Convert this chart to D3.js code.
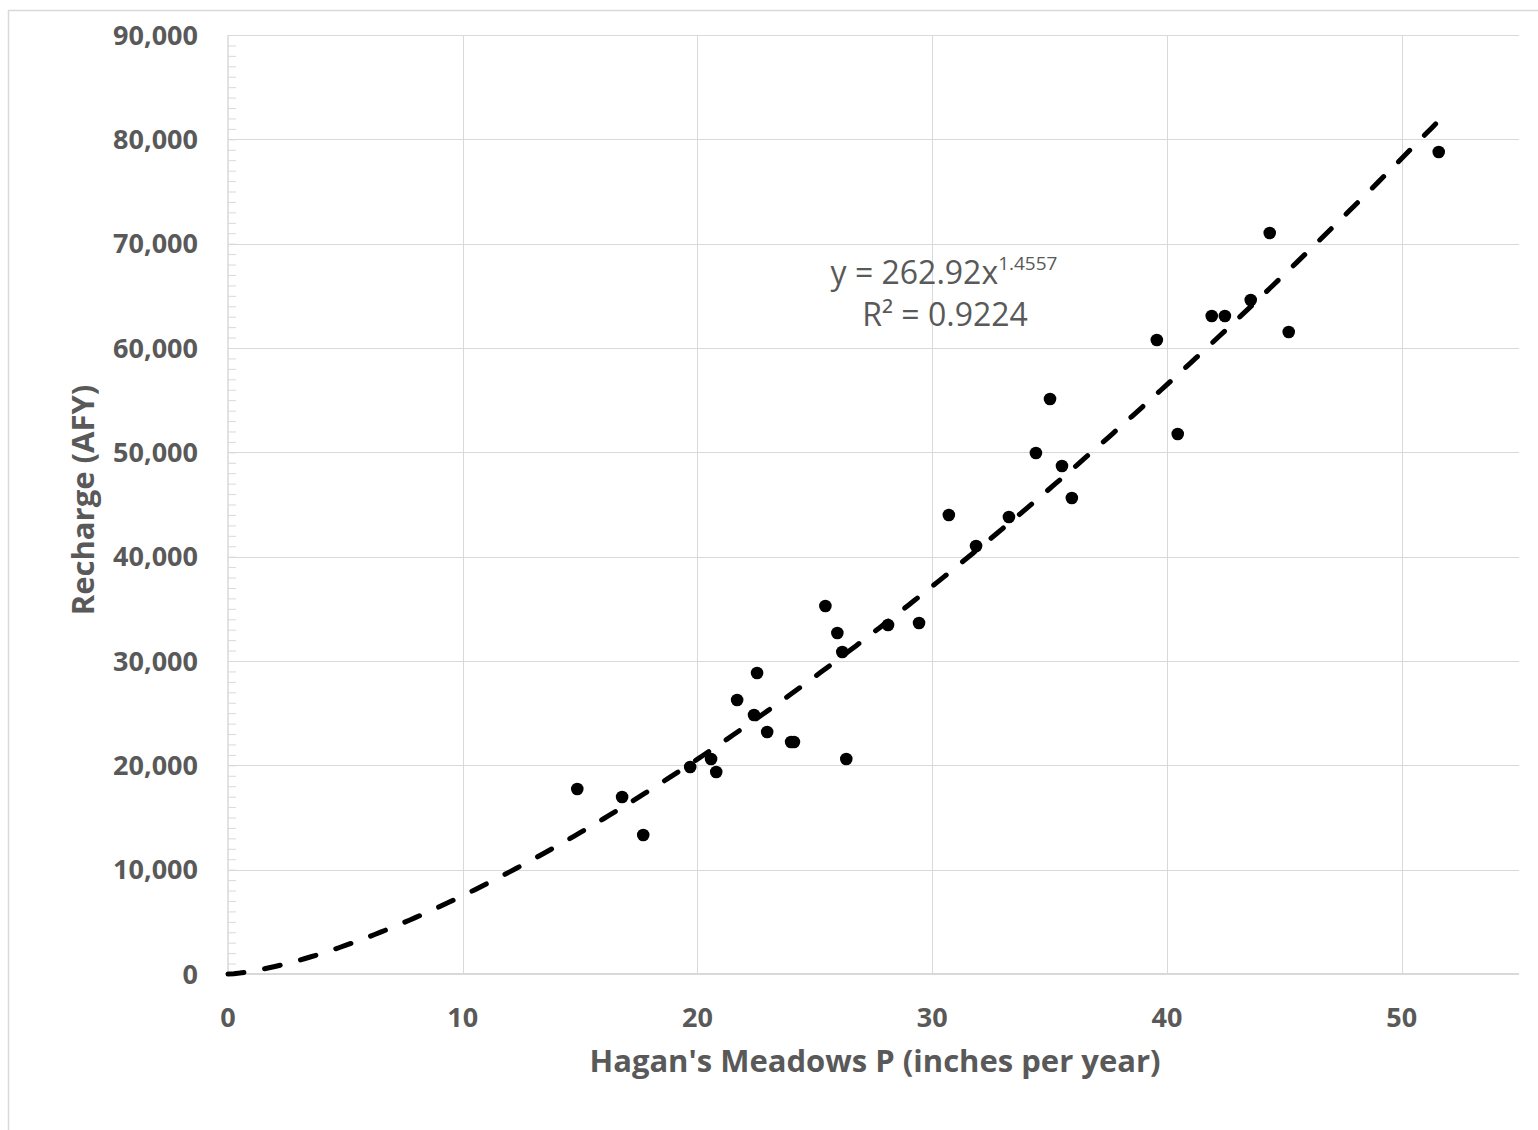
<!DOCTYPE html>
<html lang="en">
<head>
<meta charset="utf-8">
<title>Recharge vs Hagan's Meadows P</title>
<script src="https://cdn.jsdelivr.net/npm/d3@7"></script>
<style>
  body { margin: 0; background: #fff; }
  svg { display: block; }
</style>
</head>
<body>
<script>
// data: precipitation (in/yr) and recharge (AFY)
var precip = [14.88, 16.79, 17.69, 19.69, 20.58, 20.80, 21.69, 22.41, 22.54, 22.97,
              23.99, 24.11, 25.45, 25.96, 26.17, 26.34, 28.12, 29.44, 30.71, 31.87,
              33.27, 34.42, 35.02, 35.53, 35.95, 39.57, 40.46, 41.91, 42.47, 43.57,
              44.38, 45.19, 51.58];
var recharge = [17730, 16965, 13320, 19840, 20610, 19360, 26260, 24820, 28850, 23200,
                22240, 22240, 35270, 32680, 30860, 20610, 33450, 33640, 44000, 41020,
                43800, 49940, 55110, 48690, 45620, 60770, 51760, 63070, 63070, 64600,
                71020, 61530, 78790];
// power trendline y = a * x^b
var trendA = 262.92, trendB = 1.4557;
var xTicks = [0, 10, 20, 30, 40, 50];
var yTicks = [0, 10000, 20000, 30000, 40000, 50000, 60000, 70000, 80000, 90000];

(function() {
  var W = 1538, H = 1130;
  // plot box (note: "top" is reserved on window, so use pl/pr/pt/pb)
  var pl = 228, pr = 1519, pt = 35, pb = 974;
  var grey = "#595959", grid = "#d9d9d9";
  var font = "'Open Sans', sans-serif";

  var svg = d3.select("body").append("svg")
    .attr("width", W).attr("height", H);

  // outer chart frame (runs past the right/bottom edge)
  svg.append("rect")
    .attr("x", 8.5).attr("y", 10.5)
    .attr("width", W).attr("height", H)
    .attr("fill", "none").attr("stroke", grid).attr("stroke-width", 1.5);

  var x = d3.scaleLinear().domain([0, 55]).range([pl, pr]);
  var y = d3.scaleLinear().domain([0, 90000]).range([pb, pt]);

  // gridlines
  svg.append("g").selectAll("line").data(yTicks.slice(1)).enter().append("line")
    .attr("x1", pl).attr("x2", pr)
    .attr("y1", function(d) { return Math.round(y(d)) + 0.5; })
    .attr("y2", function(d) { return Math.round(y(d)) + 0.5; })
    .attr("stroke", grid).attr("stroke-width", 1);
  svg.append("g").selectAll("line").data(xTicks.slice(1)).enter().append("line")
    .attr("y1", pt).attr("y2", pb)
    .attr("x1", function(d) { return Math.round(x(d)) + 0.5; })
    .attr("x2", function(d) { return Math.round(x(d)) + 0.5; })
    .attr("stroke", grid).attr("stroke-width", 1);

  // y axis with minor ticks every 1000, pointing into the plot
  var yAxis = d3.axisRight(y).ticks(90).tickSize(8).tickFormat("");
  var ya = svg.append("g").attr("transform", "translate(" + pl + ",0)").call(yAxis);
  ya.select(".domain").attr("stroke", grid).attr("stroke-width", 1.5)
    .attr("d", "M0," + pt + "V" + pb);
  ya.selectAll(".tick line").attr("stroke", grid);

  // x axis line
  svg.append("line")
    .attr("x1", pl).attr("x2", pr)
    .attr("y1", pb).attr("y2", pb)
    .attr("stroke", grid).attr("stroke-width", 2);

  // tick labels
  svg.append("g").selectAll("text").data(yTicks).enter().append("text")
    .attr("x", 198)
    .attr("y", function(d) { return y(d); })
    .attr("dy", "0.36em")
    .attr("text-anchor", "end")
    .attr("font-family", font)
    .attr("font-weight", "bold")
    .attr("font-size", 27)
    .attr("fill", grey)
    .text(d3.format(","));
  svg.append("g").selectAll("text").data(xTicks).enter().append("text")
    .attr("x", function(d) { return x(d); })
    .attr("y", 1017)
    .attr("dy", "0.36em")
    .attr("text-anchor", "middle")
    .attr("font-family", font)
    .attr("font-weight", "bold")
    .attr("font-size", 27)
    .attr("fill", grey)
    .text(function(d) { return d; });

  // axis titles
  svg.append("text")
    .attr("transform", "translate(83,500) rotate(-90)")
    .attr("dy", "0.36em")
    .attr("text-anchor", "middle")
    .attr("font-family", font)
    .attr("font-weight", "bold")
    .attr("font-size", 31)
    .attr("fill", grey)
    .text("Recharge (AFY)");
  svg.append("text")
    .attr("x", 875).attr("y", 1061)
    .attr("dy", "0.36em")
    .attr("text-anchor", "middle")
    .attr("font-family", font)
    .attr("font-weight", "bold")
    .attr("font-size", 31)
    .attr("fill", grey)
    .text("Hagan's Meadows P (inches per year)");

  // power trendline
  var maxX = d3.max(precip) + 0.15;
  var trendX = d3.range(0, maxX, 0.25).concat([maxX]);
  var line = d3.line()
    .x(function(d) { return x(d); })
    .y(function(d) { return y(trendA * Math.pow(d, trendB)); });
  svg.append("path")
    .datum(trendX)
    .attr("d", line)
    .attr("fill", "none")
    .attr("stroke", "#000")
    .attr("stroke-width", 5)
    .attr("stroke-linecap", "round")
    .attr("stroke-dasharray", "16,21");

  // points
  svg.append("g").selectAll("circle").data(precip).enter().append("circle")
    .attr("cx", function(d) { return x(d); })
    .attr("cy", function(d, i) { return y(recharge[i]); })
    .attr("r", 6.3)
    .attr("fill", "#000");

  // equation label
  var eq = svg.append("text")
    .attr("x", 944).attr("y", 284)
    .attr("text-anchor", "middle")
    .attr("font-family", font)
    .attr("font-size", 32)
    .attr("fill", grey);
  eq.append("tspan").text("y = 262.92x");
  eq.append("tspan").attr("font-size", 19).attr("dy", -14).text("1.4557");
  svg.append("text")
    .attr("x", 945).attr("y", 326)
    .attr("text-anchor", "middle")
    .attr("font-family", font)
    .attr("font-size", 32)
    .attr("fill", grey)
    .text("R² = 0.9224");
})();
</script>
</body>
</html>
